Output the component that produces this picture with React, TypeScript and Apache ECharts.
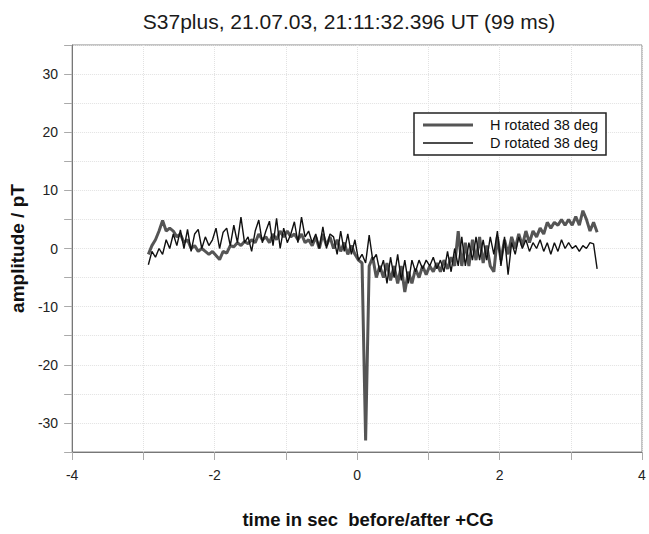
import React, { useEffect, useRef } from "react";
import * as echarts from "echarts";

const TITLE = "S37plus, 21.07.03, 21:11:32.396 UT (99 ms)";
const X_NAME = "time in sec  before/after +CG";
const Y_NAME = "amplitude / pT";
const SERIES_NAMES = ["H rotated 38 deg", "D rotated 38 deg"];
const SERIES_COLORS = ["#555555", "#111111"];
const SERIES_WIDTHS = [3, 1.4];

// sample times (s), regular grid starting at T_START with step T_STEP
const T_START = -2.93;
const T_STEP = 0.05;

const H_VALUES = [
  -1, 0.5, 1.5, 3, 4.8, 3, 3.5, 3, 2, 2.5,
  1, 1.5, 0, 0.5, -0.5, 0, -0.5, -1, -0.5, -1.2,
  -1.9, -0.5, -0.8, 0.5, 0.3, 1, 0.5, 1.2, 0.8, 1.5,
  1, 2.5, 1.5, 2, 1, 2.5, 1.5, 3, 2, 3,
  2, 2.5, 1.5, 2.5, 1, 1.5, 0.5, 2, 0, 2.5,
  0.5, 2, 0, 1.5, -0.5, 1, -1, 0.5, -1, -2,
  -2.5, -33, -3, -1.5, -5, -3, -5, -2.5, -5.5, -3,
  -6, -3, -7.5, -4, -6, -3.5, -5, -3, -4.5, -3,
  -4, -2.5, -4, -2, -3.5, -1.5, -3, 3, -3, 1,
  -3, 1.5, -2, 2, -2.5, 0.5, -3, -4, 2, -2,
  1.5, -1, 2, 0, 2.5, 0.5, 3, 1, 3, 2,
  3.5, 2.5, 4.5, 3.5, 4.5, 4, 5, 4, 5, 4,
  5.5, 4, 6.5, 5, 3, 4.5, 2.8,
];

const D_VALUES = [
  -2.8, -0.5, -1.5, 0, -1, 1.5, 0, 2.5, 0.5, 3.2,
  0, 3.3, -0.5, 2.5, 3.3, 0, 2, 0.5, 1.5, 3.5,
  0, 2.8, 3.5, 0.5, 4, 1, 5.4, 1, 2, -0.5,
  3, 4.9, 1, 3, 4.7, 0.5, 5.2, 0, 3.5, 1,
  2.5, 4.6, 1, 5.4, 2, 3, 1, 2.5, 0, 3.7,
  0, 2.5, 2, -1, 3, -0.5, 2.5, -1, 1.5, -2,
  -1, -2.5, 2.3, -2, -1, -4, -2, -6, -1.5, -5,
  -1, -5.5, -2, -6, -2, -4, -2, -3.5, -2, -3,
  -1.5, -3.5, -2, -4, -0.5, -4, 0, -3, 2, -3,
  1, -2, 2, -2, 1.5, -2, 2, -1, 3, -3,
  2, -4.5, 1, -1, 2, 0, 1.5, -0.5, 1, 0,
  1.5, -0.5, 1, -1, 1, -0.5, 1.5, 0, 1, 0,
  0.5, -0.5, 0.5, 0, 1, 0.8, -3.5,
];

const X_MIN = -4;
const X_MAX = 4;
const Y_MIN = -35;
const Y_MAX = 35;

const FONT = "'Liberation Sans', Arial, Helvetica, sans-serif";

export default function App() {
  const ref = useRef<HTMLDivElement>(null);

  useEffect(() => {
    if (!ref.current) return;
    const chart = echarts.init(ref.current, undefined, { renderer: "svg" });
    const times = H_VALUES.map((_, i) => +(T_START + i * T_STEP).toFixed(3));
    const hData = times.map((t, i) => [t, H_VALUES[i]]);
    const dData = times.map((t, i) => [t, D_VALUES[i]]);

    const legendRows = [125, 143];
    const legendItems: any[] = [
      {
        type: "rect",
        shape: { x: 414, y: 113, width: 192, height: 42 },
        style: { fill: "#fff", stroke: "#222", lineWidth: 1.5 },
        z: 10,
      },
    ];
    SERIES_NAMES.forEach((name, i) => {
      legendItems.push({
        type: "line",
        shape: { x1: 423, y1: legendRows[i], x2: 473, y2: legendRows[i] },
        style: { stroke: SERIES_COLORS[i], lineWidth: SERIES_WIDTHS[i] },
        z: 11,
      });
      legendItems.push({
        type: "text",
        x: 490,
        y: legendRows[i],
        style: {
          text: name,
          font: `14.5px ${FONT}`,
          fill: "#111",
          textAlign: "left",
          textVerticalAlign: "middle",
        },
        z: 11,
      });
    });

    chart.setOption({
      animation: false,
      backgroundColor: "#ffffff",
      textStyle: { fontFamily: FONT },
      graphic: [
        {
          type: "text",
          x: 349,
          y: 21,
          style: {
            text: TITLE,
            font: `21px ${FONT}`,
            fill: "#1a1a1a",
            textAlign: "center",
            textVerticalAlign: "middle",
          },
        },
        ...legendItems,
      ],
      grid: {
        left: 71,
        top: 45,
        right: 7,
        bottom: 75,
        show: true,
        borderColor: "#888",
        borderWidth: 1,
      },
      xAxis: {
        type: "value",
        min: X_MIN,
        max: X_MAX,
        interval: 1,
        name: X_NAME,
        nameLocation: "middle",
        nameGap: 58,
        nameTextStyle: {
          fontSize: 18.5,
          fontWeight: "bold",
          color: "#111",
          fontFamily: FONT,
          padding: [0, 0, 0, 22],
        },
        axisLine: { show: true, onZero: false, lineStyle: { color: "#777", width: 1 } },
        axisTick: { show: true, inside: false, length: 8, lineStyle: { color: "#aaa" } },
        axisLabel: {
          fontSize: 14,
          color: "#222",
          margin: 16,
          formatter: (v: number) => (Math.round(v) % 2 === 0 ? String(v) : ""),
        },
        splitLine: { show: true, lineStyle: { color: "#e2e2e2", type: "dotted", width: 1 } },
      },
      yAxis: {
        type: "value",
        min: Y_MIN,
        max: Y_MAX,
        interval: 5,
        name: Y_NAME,
        nameLocation: "middle",
        nameGap: 40,
        nameTextStyle: { fontSize: 19, fontWeight: "bold", color: "#111", fontFamily: FONT },
        axisLine: { show: true, onZero: false, lineStyle: { color: "#777", width: 1 } },
        axisTick: { show: true, inside: false, length: 8, lineStyle: { color: "#aaa" } },
        axisLabel: {
          fontSize: 14,
          color: "#222",
          margin: 14,
          formatter: (v: number) =>
            Math.round(v) % 10 === 0 && Math.abs(v) < 35 ? String(v) : "",
        },
        splitLine: { show: true, lineStyle: { color: "#e2e2e2", type: "dotted", width: 1 } },
      },
      series: [
        {
          name: SERIES_NAMES[0],
          type: "line",
          data: hData,
          symbol: "none",
          lineStyle: { color: SERIES_COLORS[0], width: SERIES_WIDTHS[0] },
          itemStyle: { color: SERIES_COLORS[0] },
          z: 2,
        },
        {
          name: SERIES_NAMES[1],
          type: "line",
          data: dData,
          symbol: "none",
          lineStyle: { color: SERIES_COLORS[1], width: SERIES_WIDTHS[1] },
          itemStyle: { color: SERIES_COLORS[1] },
          z: 3,
        },
      ],
    });
    return () => chart.dispose();
  }, []);

  return (
    <div
      ref={ref}
      style={{ position: "fixed", left: 0, top: 0, width: 649, height: 534 }}
    />
  );
}
